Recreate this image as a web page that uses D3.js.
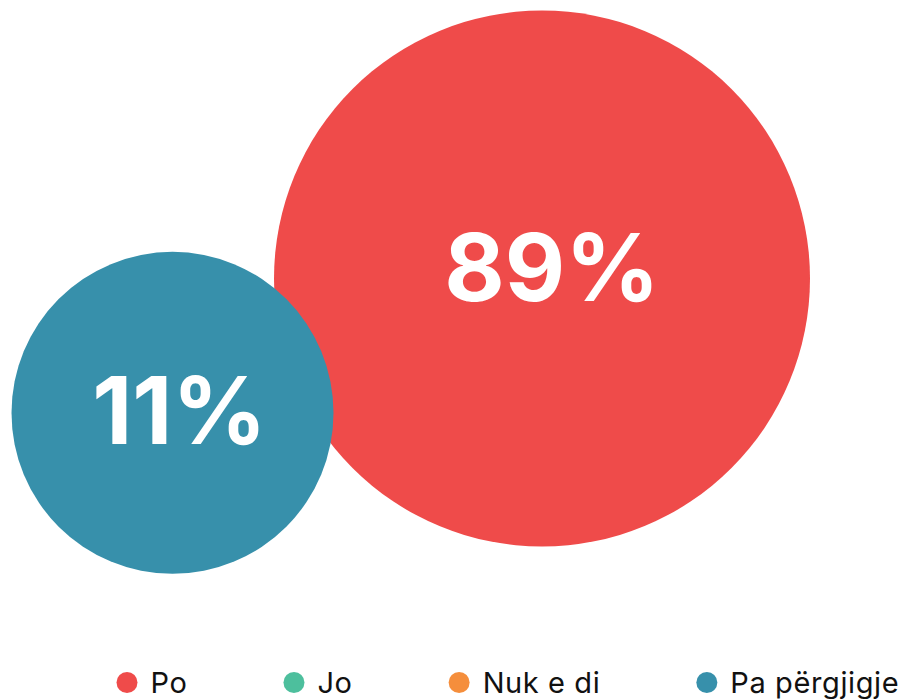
<!DOCTYPE html>
<html>
<head>
<meta charset="utf-8">
<script src="https://cdn.jsdelivr.net/npm/d3@7"></script>
<style>
  body { margin: 0; background: #fff; }
  svg { display: block; font-family: Inter, "Noto Sans", sans-serif; }
</style>
</head>
<body>
<svg id="chart" width="916" height="699"></svg>
<script>
const categories = ['Po', 'Jo', 'Nuk e di', 'Pa përgjigje'];
const values = [89, 0, 0, 11];
const colors = ['#ef4b4a', '#4dbf9d', '#f58e3c', '#3790ab'];

const width = 916;
const height = 699;

const svg = d3.select('#chart');

const colour = d3.scaleOrdinal().domain(categories).range(colors);

// bubbles only for non-zero answers
const bubbles = categories
  .map((c, i) => ({ cat: c, value: values[i] }))
  .filter(d => d.value > 0);

const rScale = d3.scaleLinear()
  .domain(d3.extent(bubbles, d => d.value))
  .range([161, 268]);

// layout: biggest bubble top-right, smaller one lower-left overlapping it
const big = bubbles.find(d => d.value === d3.max(bubbles, b => b.value));
const small = bubbles.find(d => d !== big);
big.r = rScale(big.value);
small.r = rScale(small.value);
big.x = width - 106 - big.r;
big.y = 10.5 + big.r;
small.x = 11.5 + small.r;
small.y = big.y + big.r - small.r * 0.83;
// label nudges
big.lx = 10; big.ly = 22;
small.lx = 7; small.ly = 31;

const g = svg.append('g');

g.selectAll('circle')
  .data([big, small])
  .join('circle')
  .attr('cx', d => d.x)
  .attr('cy', d => d.y)
  .attr('r', d => d.r)
  .attr('fill', d => colour(d.cat));

g.selectAll('text.pct')
  .data([big, small])
  .join('text')
  .attr('class', 'pct')
  .attr('x', d => d.x + d.lx)
  .attr('y', d => d.y + d.ly)
  .attr('text-anchor', 'middle')
  .attr('fill', '#fff')
  .style('font-size', '93px')
  .style('font-weight', 700)
  .text(d => d.value + '%');

// Legend
const legend = svg.append('g')
  .attr('transform', `translate(116.5, 682.5)`);

let xOff = 0;
categories.forEach(c => {
  const item = legend.append('g')
    .attr('transform', `translate(${xOff}, 0)`);
  item.append('circle')
    .attr('cx', 10.5)
    .attr('cy', 0)
    .attr('r', 10.5)
    .attr('fill', colour(c));
  const t = item.append('text')
    .attr('x', 34)
    .attr('y', 10.5)
    .attr('fill', '#111')
    .style('font-size', '29px')
    .style('letter-spacing', '0.6px')
    .text(c);
  xOff += 34 + t.node().getComputedTextLength() + 96;
});
</script>
</body>
</html>
